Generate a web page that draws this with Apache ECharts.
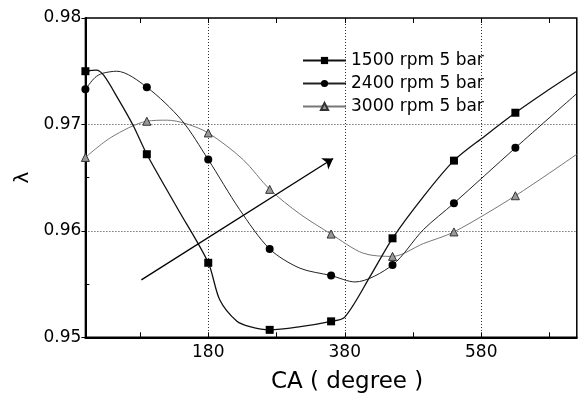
<!DOCTYPE html>
<html>
<head>
<meta charset="utf-8">
<script src="https://cdn.jsdelivr.net/npm/echarts@6/dist/echarts.min.js"></script>
<style>
  html, body { margin: 0; padding: 0; background: #fff; }
  #chart { width: 579px; height: 404px; }
</style>
</head>
<body>
<div id="chart"></div>
<script>
// Crank angle (degree) and excess air ratio lambda for three operating points
const seriesNames = ['1500 rpm 5 bar', '2400 rpm 5 bar', '3000 rpm 5 bar'];

const ca1500 = [0, 16, 27, 48, 70, 90, 135, 180, 197, 222, 241, 270, 315, 360, 380, 417, 450, 495, 540, 585, 630, 675, 720];
const lambda1500 = [0.9750, 0.9751, 0.9746, 0.9724, 0.9699, 0.9672, 0.9621, 0.9570, 0.9535, 0.9515, 0.9510, 0.9507, 0.9510, 0.9515, 0.9519, 0.9557, 0.9593, 0.9632, 0.9666, 0.9689, 0.9711, 0.9731, 0.9750];

const ca2400 = [0, 14, 25, 46, 90, 141, 180, 226, 270, 314, 360, 395, 450, 495, 540, 630, 720];
const lambda2400 = [0.9733, 0.9744, 0.9748, 0.9750, 0.9735, 0.9704, 0.9667, 0.9620, 0.9583, 0.9565, 0.9558, 0.9552, 0.9568, 0.9601, 0.9626, 0.9678, 0.9729];

const ca3000 = [0, 38, 90, 120, 146, 180, 231, 270, 314, 360, 407, 450, 495, 540, 630, 720];
const lambda3000 = [0.9669, 0.9688, 0.9703, 0.9704, 0.9701, 0.9692, 0.9667, 0.9639, 0.9616, 0.9597, 0.9579, 0.9576, 0.9588, 0.9599, 0.9633, 0.9672];

// Measured points (drawn with markers)
const markerCA = [0, 90, 180, 270, 360, 450, 540, 630];

// Axis ticks
const xTicks = [80, 180, 280, 380, 480, 580, 680];
const xLabels = [180, 380, 580];
const yMinorTicks = [0.955, 0.965, 0.975];

// Trend arrow (increasing engine speed)
const arrowFrom = [82, 0.9554];
const arrowTo = [363, 0.9668];

const FONT = 'DejaVu Sans';

function curve(ca, lam) {
  return ca.map((x, i) => {
    const item = { value: [x, lam[i]] };
    if (markerCA.indexOf(x) < 0) item.symbol = 'none';
    return item;
  });
}

const chart = echarts.init(document.getElementById('chart'), null, { renderer: 'canvas' });

const option = {
  animation: false,
  backgroundColor: '#fff',
  textStyle: { fontFamily: FONT },
  grid: {
    left: 85.4, right: 2.2, top: 18, bottom: 66.7,
    show: true, borderColor: '#000', borderWidth: 1.5, backgroundColor: 'transparent'
  },
  legend: {
    data: seriesNames,
    orient: 'vertical',
    left: 302,
    top: 52,
    padding: 0,
    itemWidth: 43,
    itemHeight: 9,
    itemGap: 6,
    textStyle: { fontFamily: FONT, fontSize: 17, color: '#000' }
  },
  xAxis: [
    {
      type: 'value', min: 0, max: 720, position: 'bottom',
      name: 'CA ( degree )', nameLocation: 'middle', nameGap: 33,
      nameTextStyle: { fontFamily: FONT, fontSize: 23, color: '#000', padding: [0, 0, 0, 32] },
      axisLine: { show: true, onZero: false, lineStyle: { color: '#000', width: 2 } },
      axisTick: { show: true, inside: true, length: 5, customValues: xTicks, lineStyle: { color: '#000', width: 1 } },
      axisLabel: { show: true, customValues: xLabels, margin: 7, fontFamily: FONT, fontSize: 17, color: '#000' },
      splitLine: { show: false }
    },
    {
      type: 'value', min: 0, max: 720, position: 'top',
      axisLine: { show: false },
      axisTick: { show: true, inside: true, length: 5, customValues: xTicks, lineStyle: { color: '#000', width: 1 } },
      axisLabel: { show: false },
      splitLine: { show: false }
    },
    {
      type: 'value', min: 0, max: 720, position: 'bottom',
      axisLine: { show: false },
      axisTick: { show: false, customValues: xLabels },
      axisLabel: { show: false, customValues: xLabels },
      splitLine: { show: true, lineStyle: { color: '#333', width: 1, type: [1, 2] } }
    }
  ],
  yAxis: [
    {
      type: 'value', min: 0.95, max: 0.98, interval: 0.01, position: 'left',
      name: 'λ', nameLocation: 'middle', nameGap: 50, nameRotate: 90,
      nameTextStyle: { fontFamily: FONT, fontSize: 20, color: '#000' },
      axisLine: { show: true, onZero: false, lineStyle: { color: '#000', width: 2 } },
      axisTick: { show: true, inside: false, length: 4, lineStyle: { color: '#000', width: 1 } },
      axisLabel: { margin: 4, fontFamily: FONT, fontSize: 17, color: '#000', formatter: v => v.toFixed(2) },
      splitLine: { show: true, lineStyle: { color: '#333', width: 1, type: [1, 2] } }
    },
    {
      type: 'value', min: 0.95, max: 0.98, position: 'left',
      axisLine: { show: false },
      axisTick: { show: true, inside: true, length: 4, customValues: yMinorTicks, lineStyle: { color: '#000', width: 1 } },
      axisLabel: { show: false, customValues: yMinorTicks },
      splitLine: { show: false }
    }
  ],
  series: [
    {
      name: seriesNames[0], type: 'line', smooth: 0.3,
      data: curve(ca1500, lambda1500),
      symbol: 'rect', symbolSize: 8,
      lineStyle: { color: '#111', width: 1.3 },
      itemStyle: { color: '#000' },
      z: 4
    },
    {
      name: seriesNames[1], type: 'line', smooth: 0.3,
      data: curve(ca2400, lambda2400),
      symbol: 'circle', symbolSize: 8,
      lineStyle: { color: '#222', width: 1 },
      itemStyle: { color: '#000' },
      z: 3
    },
    {
      name: seriesNames[2], type: 'line', smooth: 0.3,
      data: curve(ca3000, lambda3000),
      symbol: 'triangle', symbolSize: 8,
      lineStyle: { color: '#777', width: 1 },
      itemStyle: { color: '#999', borderColor: '#333', borderWidth: 1 },
      z: 2
    },
    {
      name: 'trend', type: 'line', data: [],
      markLine: {
        silent: true,
        symbol: ['none', 'arrow'],
        symbolSize: 10,
        label: { show: false },
        itemStyle: { color: '#000' },
        lineStyle: { color: '#000', width: 1.3, type: 'solid' },
        data: [[{ coord: arrowFrom }, { coord: arrowTo }]]
      }
    }
  ]
};

chart.setOption(option);
</script>
</body>
</html>
